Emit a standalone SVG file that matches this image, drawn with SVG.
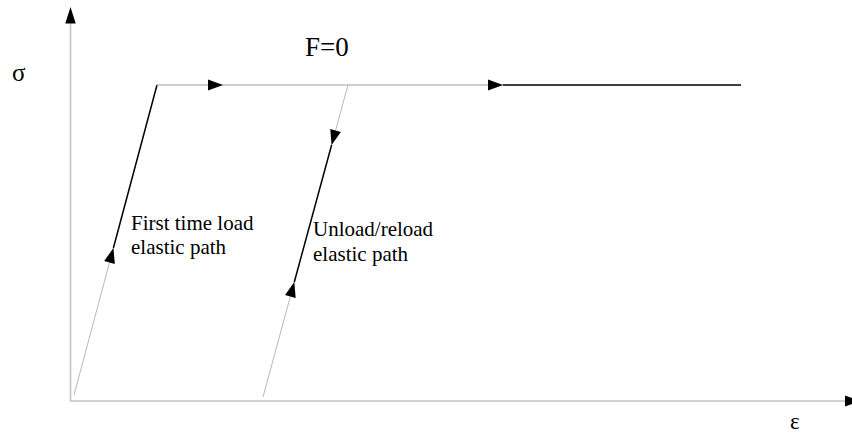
<svg xmlns="http://www.w3.org/2000/svg" xmlns:xlink="http://www.w3.org/1999/xlink" width="852" height="434" viewBox="0 0 852 434">
<style>
.axis{stroke:#c0c0c0;stroke-width:1.5;fill:none}
.gray{stroke:#b8b8b8;stroke-width:1;fill:none}
.hgray{stroke:#a0a0a0;stroke-width:1.2;fill:none}
.blk{stroke:#000;stroke-width:1.5;fill:none}
.ah{fill:#000}
text{font-family:"Liberation Serif","Times New Roman",serif;fill:#000}
.lbl{font-size:21px}
</style>
<defs>
<path id="ah" d="M0,0 L-15,-5.5 L-15,5.5 Z"/>
</defs>
<rect width="852" height="434" fill="#fff"/>
<g id="axes">
<line class="axis" x1="70.5" y1="401" x2="70.5" y2="20"/>
<line class="axis" x1="70" y1="401" x2="848" y2="401"/>
<use href="#ah" class="ah" transform="translate(70.5,7) rotate(-90) scale(1.1,0.95)"/>
<use href="#ah" class="ah" transform="translate(860,401)"/>
<text x="12" y="81" font-size="25">σ</text>
<text x="790" y="429" font-size="23">ε</text>
</g>
<g id="connectors">
<line class="gray" x1="74" y1="395" x2="113.4" y2="248"/>
<line class="blk" x1="113.4" y1="248" x2="157" y2="85"/>
<line class="hgray" x1="157" y1="85" x2="503" y2="85"/>
<line class="blk" x1="503" y1="85" x2="741" y2="85"/>
<line class="gray" x1="263" y1="397" x2="294.3" y2="282"/>
<line class="blk" x1="294.3" y1="282" x2="331.6" y2="145"/>
<line class="gray" x1="331.6" y1="145" x2="348" y2="85"/>
<use href="#ah" class="ah" transform="translate(113.4,248) rotate(-75)"/>
<use href="#ah" class="ah" transform="translate(223,85)"/>
<use href="#ah" class="ah" transform="translate(503,85)"/>
<use href="#ah" class="ah" transform="translate(294.3,282) rotate(-74.76)"/>
<use href="#ah" class="ah" transform="translate(331.6,145) rotate(105.24)"/>
</g>
<g id="label-f0">
<text x="305" y="56" font-size="27">F=0</text>
</g>
<g id="label-first">
<text class="lbl" x="131" y="230">First time load</text>
<text class="lbl" x="131" y="254">elastic path</text>
</g>
<g id="label-unload">
<text class="lbl" x="313" y="236">Unload/reload</text>
<text class="lbl" x="313" y="261">elastic path</text>
</g>
</svg>
